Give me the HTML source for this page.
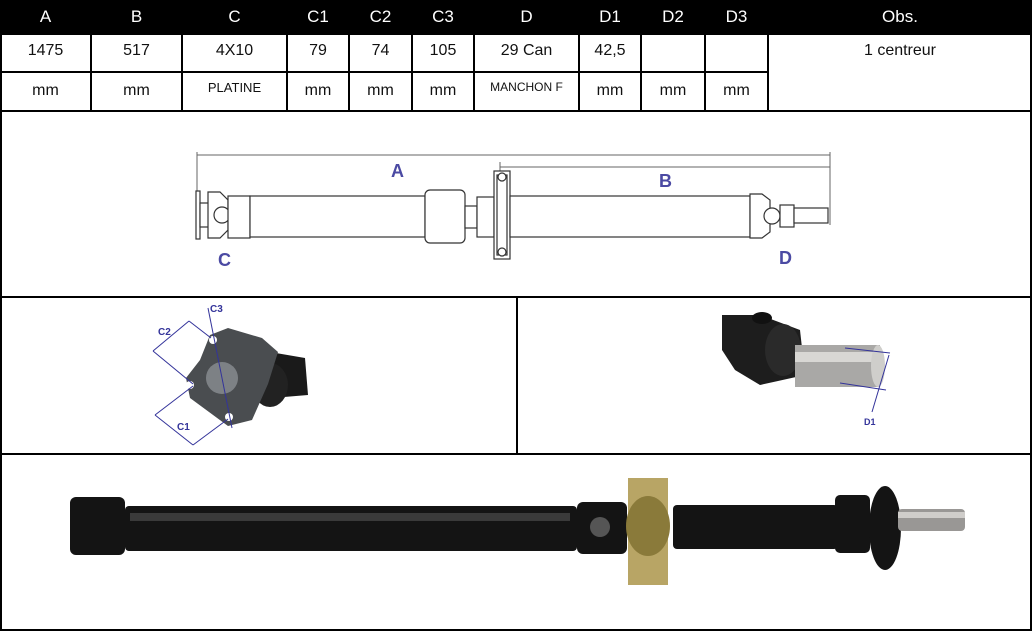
<!DOCTYPE html>
<html><head><meta charset="utf-8"><style>
body{margin:0;width:1032px;height:631px;background:#fff;position:relative;overflow:hidden;font-family:"Liberation Sans",sans-serif}
.hd{position:absolute;top:0;left:0;width:1032px;height:34px;background:#000}
.t{position:absolute;text-align:center;font-size:16px;color:#111}
.h{color:#fff;font-size:17px;top:7px}
svg{position:absolute;left:0;top:0}
</style></head><body>
<div class="hd"></div>
<svg width="1032" height="631">
<g stroke="#000" stroke-width="2" fill="none">
<rect x="1" y="34" width="1030" height="596"/>
<line x1="0" y1="72" x2="768" y2="72"/>
<line x1="0" y1="111" x2="1032" y2="111"/>
<line x1="0" y1="297" x2="1032" y2="297"/>
<line x1="0" y1="454" x2="1032" y2="454"/>
<line x1="517" y1="297" x2="517" y2="454"/>
<g>
<line x1="91" y1="34" x2="91" y2="111"/><line x1="182" y1="34" x2="182" y2="111"/>
<line x1="287" y1="34" x2="287" y2="111"/><line x1="349" y1="34" x2="349" y2="111"/>
<line x1="412" y1="34" x2="412" y2="111"/><line x1="474" y1="34" x2="474" y2="111"/>
<line x1="579" y1="34" x2="579" y2="111"/><line x1="641" y1="34" x2="641" y2="111"/>
<line x1="705" y1="34" x2="705" y2="111"/><line x1="768" y1="34" x2="768" y2="111"/>
</g>
</g>
<!-- top drawing -->
<g stroke="#666" stroke-width="1" fill="none">
<line x1="197" y1="155" x2="830" y2="155"/><line x1="197" y1="152" x2="197" y2="225"/>
<line x1="830" y1="152" x2="830" y2="225"/>
<line x1="500" y1="167" x2="830" y2="167"/><line x1="500" y1="162" x2="500" y2="172"/>
</g>
<g stroke="#333" stroke-width="1.2" fill="#fff">
<rect x="196" y="191" width="4" height="48"/>
<rect x="200" y="203" width="10" height="24"/>
<path d="M208 192 h12 l8 8 v30 l-8 8 h-12 z"/>
<circle cx="222" cy="215" r="8"/>
<rect x="228" y="196" width="22" height="42"/>
<rect x="250" y="196" width="175" height="41"/>
<rect x="425" y="190" width="40" height="53" rx="5"/>
<rect x="465" y="206" width="12" height="22"/>
<rect x="477" y="197" width="17" height="40"/>
<rect x="494" y="171" width="16" height="88"/>
<rect x="497" y="175" width="10" height="80"/>
<circle cx="502" cy="177" r="4"/><circle cx="502" cy="252" r="4"/>
<rect x="510" y="196" width="240" height="41"/>
<path d="M750 194 h12 l8 6 v32 l-8 6 h-12 z"/>
<circle cx="772" cy="216" r="8"/>
<rect x="780" y="205" width="14" height="22"/>
<rect x="794" y="208" width="34" height="15"/>
</g>
<g fill="#4b4aa3" font-family="Liberation Sans" font-weight="bold" font-size="18">
<text x="391" y="177">A</text><text x="659" y="187">B</text>
<text x="218" y="266">C</text><text x="779" y="264">D</text>
</g>
<!-- left photo -->
<g>
<path d="M270 352 L305 358 L308 395 L272 398 Z" fill="#1a1a1a"/>
<ellipse cx="270" cy="385" rx="18" ry="22" fill="#222"/>
<path d="M210 335 L228 328 L262 338 L278 352 L268 384 L252 420 L228 426 L190 398 L186 378 L200 360 Z" fill="#4a4d50"/>
<ellipse cx="222" cy="378" rx="16" ry="16" fill="#7d8185"/>
<circle cx="213" cy="340" r="4" fill="#fff"/><circle cx="190" cy="385" r="4" fill="#fff"/><circle cx="229" cy="417" r="4" fill="#fff"/>
</g>
<g stroke="#33339a" stroke-width="1" fill="none">
<line x1="208" y1="308" x2="232" y2="428"/>
<line x1="153" y1="351" x2="189" y2="321"/><line x1="153" y1="351" x2="193" y2="384"/><line x1="189" y1="321" x2="211" y2="338"/>
<line x1="155" y1="415" x2="193" y2="386"/><line x1="155" y1="415" x2="193" y2="445"/><line x1="193" y1="445" x2="228" y2="419"/>
</g>
<g fill="#33339a" font-size="10" font-weight="bold"><text x="210" y="312">C3</text><text x="158" y="335">C2</text><text x="177" y="430">C1</text></g>
<!-- right photo -->
<g>
<path d="M722 315 L760 315 L800 330 L805 375 L760 385 L735 370 L722 350 Z" fill="#1d1d1d"/>
<ellipse cx="783" cy="350" rx="18" ry="26" fill="#2a2a2a"/>
<rect x="795" y="345" width="85" height="42" fill="#a9a8a6"/>
<rect x="795" y="352" width="85" height="10" fill="#d8d7d4"/>
<ellipse cx="878" cy="366" rx="7" ry="21" fill="#cfcecb"/>
<ellipse cx="762" cy="318" rx="10" ry="6" fill="#111"/>
</g>
<g stroke="#33339a" stroke-width="1"><line x1="845" y1="348" x2="890" y2="353"/><line x1="840" y1="383" x2="886" y2="390"/><line x1="889" y1="355" x2="872" y2="412"/></g>
<text x="864" y="425" fill="#33339a" font-size="9" font-weight="bold">D1</text>
<!-- bottom shaft -->
<g fill="#141414">
<rect x="70" y="497" width="55" height="58" rx="6"/>
<rect x="125" y="506" width="452" height="45" rx="4"/>
<rect x="577" y="502" width="50" height="52" rx="6"/>
<rect x="673" y="505" width="165" height="44" rx="4"/>
<rect x="835" y="495" width="35" height="58" rx="5"/>
<ellipse cx="885" cy="528" rx="16" ry="42"/>
</g>
<rect x="130" y="513" width="440" height="8" fill="#3a3a3a"/>
<rect x="628" y="478" width="40" height="107" fill="#b8a565"/>
<ellipse cx="648" cy="526" rx="22" ry="30" fill="#8a7a3a"/>
<ellipse cx="600" cy="527" rx="10" ry="10" fill="#555"/>
<rect x="898" y="509" width="67" height="22" rx="4" fill="#999795"/>
<rect x="898" y="512" width="67" height="6" fill="#cfcdca"/>
</svg>
<div class="t h" style="left:0;width:91px">A</div>
<div class="t h" style="left:91px;width:91px">B</div>
<div class="t h" style="left:182px;width:105px">C</div>
<div class="t h" style="left:287px;width:62px">C1</div>
<div class="t h" style="left:349px;width:63px">C2</div>
<div class="t h" style="left:412px;width:62px">C3</div>
<div class="t h" style="left:474px;width:105px">D</div>
<div class="t h" style="left:579px;width:62px">D1</div>
<div class="t h" style="left:641px;width:64px">D2</div>
<div class="t h" style="left:705px;width:63px">D3</div>
<div class="t h" style="left:768px;width:264px">Obs.</div>
<div class="t" style="top:42px;left:0;width:91px">1475</div>
<div class="t" style="top:42px;left:91px;width:91px">517</div>
<div class="t" style="top:42px;left:182px;width:105px">4X10</div>
<div class="t" style="top:42px;left:287px;width:62px">79</div>
<div class="t" style="top:42px;left:349px;width:63px">74</div>
<div class="t" style="top:42px;left:412px;width:62px">105</div>
<div class="t" style="top:42px;left:474px;width:105px">29 Can</div>
<div class="t" style="top:42px;left:579px;width:62px">42,5</div>
<div class="t" style="top:42px;left:768px;width:264px">1 centreur</div>
<div class="t" style="top:82px;left:0;width:91px">mm</div>
<div class="t" style="top:82px;left:91px;width:91px">mm</div>
<div class="t" style="top:80px;left:182px;width:105px;font-size:13px">PLATINE</div>
<div class="t" style="top:82px;left:287px;width:62px">mm</div>
<div class="t" style="top:82px;left:349px;width:63px">mm</div>
<div class="t" style="top:82px;left:412px;width:62px">mm</div>
<div class="t" style="top:80px;left:474px;width:105px;font-size:12px">MANCHON F</div>
<div class="t" style="top:82px;left:579px;width:62px">mm</div>
<div class="t" style="top:82px;left:641px;width:64px">mm</div>
<div class="t" style="top:82px;left:705px;width:63px">mm</div>
</body></html>
